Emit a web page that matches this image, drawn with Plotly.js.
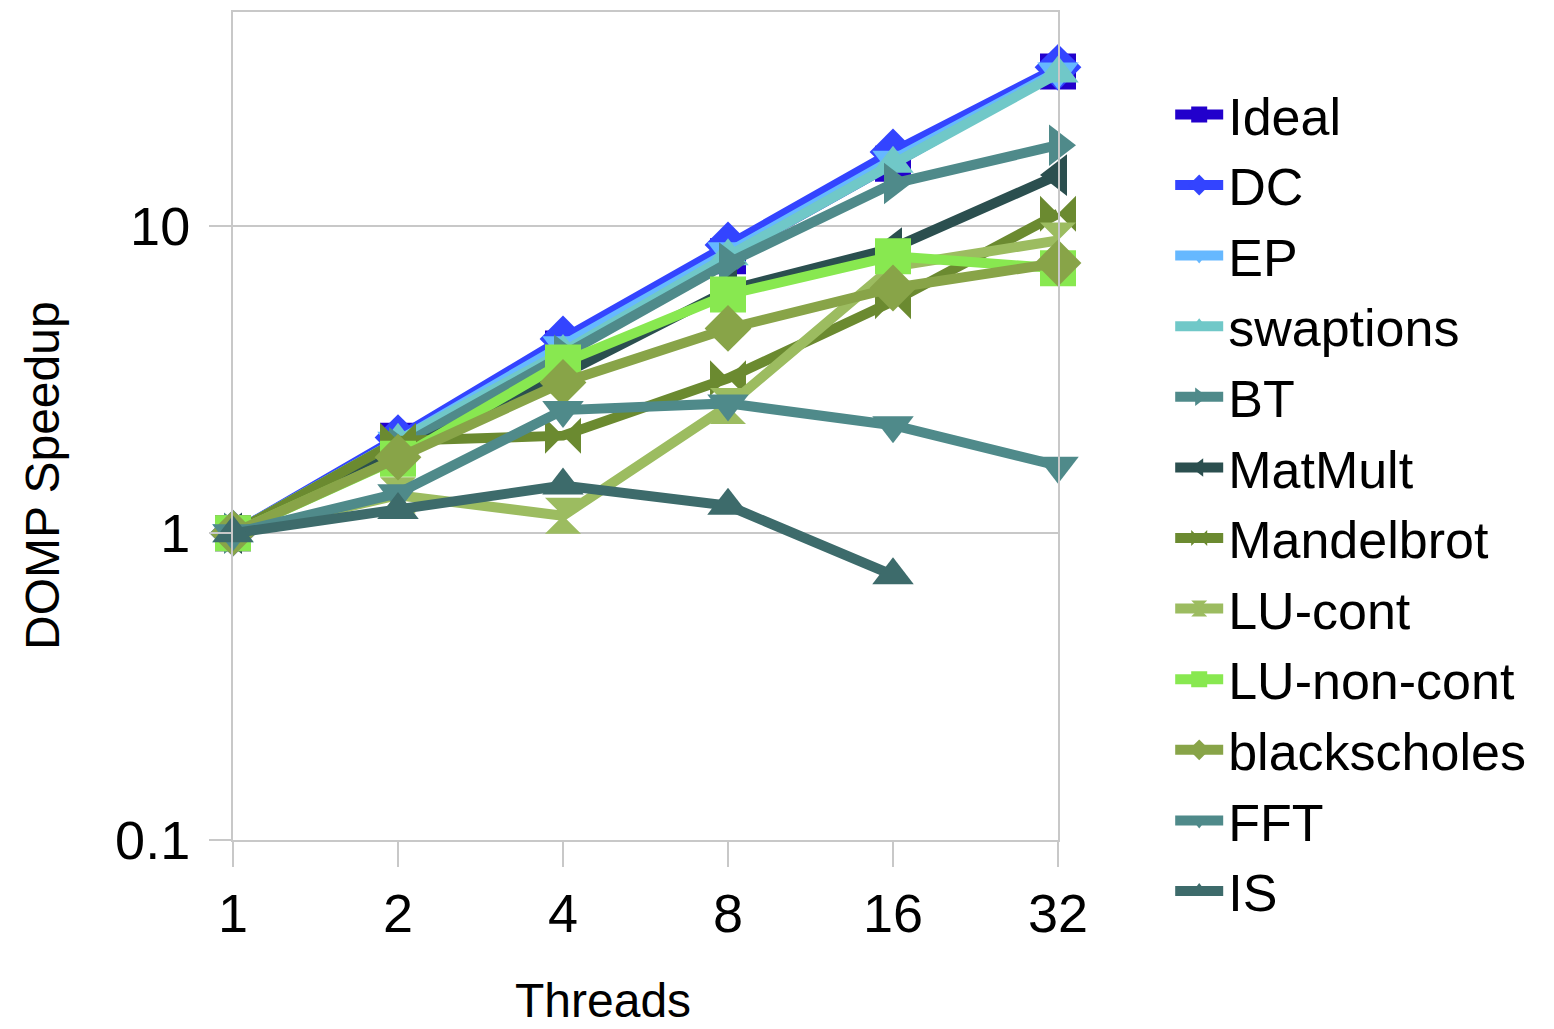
<!DOCTYPE html>
<html>
<head>
<meta charset="utf-8">
<script src="https://cdn.plot.ly/plotly-3.0.1.min.js"></script>
<style>html,body{margin:0;padding:0;background:#fff;}#chart{width:1554px;height:1029px;}</style>
</head>
<body>
<div id="chart"></div>
<script>
const threads = ["1", "2", "4", "8", "16", "32"];
const seriesNames = ["Ideal", "DC", "EP", "swaptions", "BT", "MatMult", "Mandelbrot", "LU-cont", "LU-non-cont", "blackscholes", "FFT", "IS"];
const ideal = [1, 2, 4, 8, 16, 32];
const dc = [1, 2.05, 4.3, 8.7, 17.5, 33];
const ep = [1, 2, 4.1, 8.3, 16.5, 32];
const swaptions = [1, 2, 3.9, 8, 16, 31.5];
const bt = [1, 1.9, 3.8, 7.6, 13.8, 18.4];
const matmult = [1, 1.8, 3.3, 6.2, 8.5, 14.7];
const mandelbrot = [1, 2.0, 2.08, 3.2, 5.7, 11];
const luCont = [1, 1.33, 1.14, 2.6, 7.4, 9.0];
const luNonCont = [1, 1.75, 3.6, 6.0, 8.0, 7.3];
const blackscholes = [1, 1.77, 3.1, 4.65, 6.3, 7.6];
const fft = [1, 1.35, 2.52, 2.65, 2.25, 1.66];
const is = [1, 1.19, 1.43, 1.23, 0.73, null];
const yTickVals = [0.1, 1, 10];
const yTickText = ["0.1", "1", "10"];

const values = [ideal, dc, ep, swaptions, bt, matmult, mandelbrot, luCont, luNonCont, blackscholes, fft, is];
const colors = ["#2200cc", "#3344ff", "#66b8ff", "#70c8c8", "#4f8a8a", "#2b4f4f", "#6b8a30", "#9cbc60", "#88e850", "#88a448", "#4f8a8a", "#3d6b6b"];
const symbols = ["square", "diamond", "triangle-down", "triangle-up", "triangle-right", "triangle-left", "bowtie", "hourglass", "square", "diamond", "triangle-down", "triangle-up"];

const traces = seriesNames.map((n, i) => ({
  type: "scatter",
  mode: "lines+markers",
  name: n,
  x: threads,
  y: values[i],
  cliponaxis: false,
  line: {color: colors[i], width: 10},
  marker: {color: colors[i], symbol: symbols[i], size: 36, line: {width: 0}}
}));

const font = "Liberation Sans, Arial, sans-serif";
const layout = {
  width: 1554, height: 1029,
  margin: {l: 233, r: 496, t: 12, b: 189},
  paper_bgcolor: "#fff", plot_bgcolor: "#fff",
  font: {family: font, color: "#000", size: 50},
  showlegend: true,
  legend: {
    x: 1.136, xanchor: "left", y: 0.925, yanchor: "top",
    font: {family: font, size: 52, color: "#000"},
    itemwidth: 48, tracegroupgap: 0, bgcolor: "rgba(0,0,0,0)",
    maxheight: 950
  },
  xaxis: {
    type: "category", range: [0, 5],
    showline: true, linecolor: "#c8c8c8", linewidth: 2, mirror: true,
    showgrid: false, zeroline: false,
    ticks: "outside", ticklen: 25, tickwidth: 2, tickcolor: "#c8c8c8",
    tickfont: {family: font, size: 54, color: "#000"}
  },
  yaxis: {
    type: "log", range: [-1, 1.699],
    tickmode: "array", tickvals: yTickVals, ticktext: yTickText,
    showline: true, linecolor: "#c8c8c8", linewidth: 2, mirror: true,
    showgrid: true, gridcolor: "#c8c8c8", gridwidth: 2, zeroline: false,
    ticks: "outside", ticklen: 22, tickwidth: 2, tickcolor: "#c8c8c8",
    ticklabelstandoff: 8,
    tickfont: {family: font, size: 54, color: "#000"}
  },
  annotations: [
    {text: "Threads", xref: "paper", yref: "paper", x: (603 - 233) / 825, y: -(1000 - 840) / 828,
     xanchor: "center", yanchor: "middle", showarrow: false, font: {family: font, size: 48, color: "#000"}},
    {text: "DOMP Speedup", xref: "paper", yref: "paper", x: -(233 - 42) / 825, y: (840 - 476) / 828,
     xanchor: "center", yanchor: "middle", textangle: -90, showarrow: false, font: {family: font, size: 48, color: "#000"}}
  ]
};

Plotly.newPlot("chart", traces, layout, {displayModeBar: false, staticPlot: true});
</script>
</body>
</html>
